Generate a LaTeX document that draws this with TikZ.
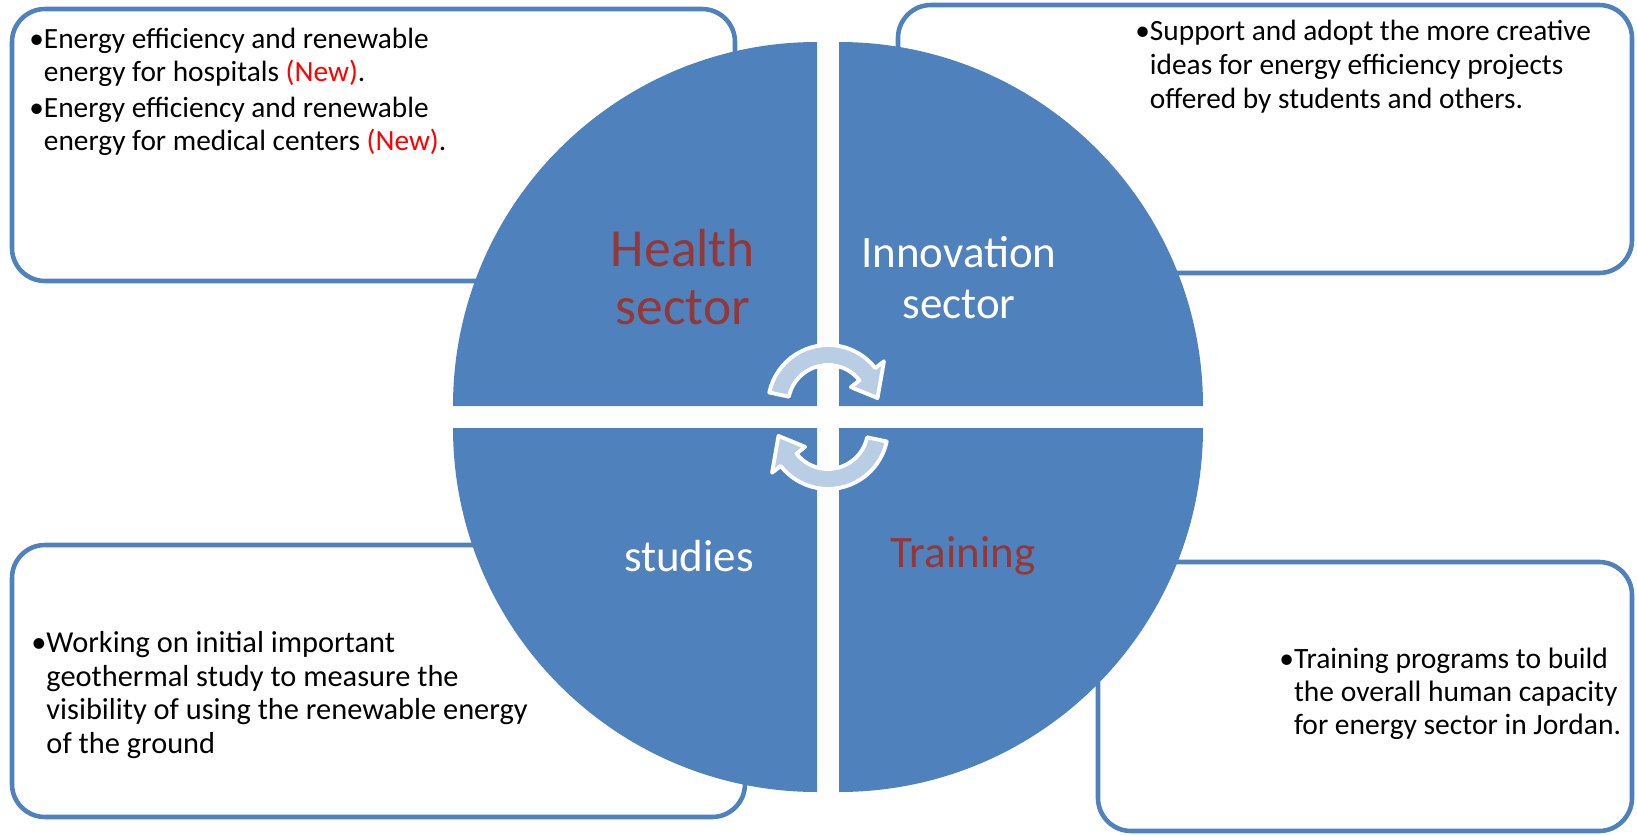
\documentclass[tikz,border=0pt]{standalone}
\usepackage{fontspec}
\setmainfont{Carlito}
\usetikzlibrary{positioning}
\definecolor{SmartBlue}{RGB}{79,129,189}
\definecolor{SmartRed}{RGB}{149,55,53}
\definecolor{ArrowBlue}{RGB}{185,205,229}
\colorlet{boxcolor}{SmartBlue}

\begin{document}
\begin{tikzpicture}[x = 0.02cm, y = -0.02cm,
    infobox/.style = {draw = boxcolor, line width = 2.6pt, rounded corners = 0.66cm, fill = white},
    sector/.style = {fill = SmartBlue},
    sectorlabel/.style = {align = center, inner sep = 0pt, font = \fontsize{25.6}{29}\selectfont},
    infotext/.style = {align = left, anchor = north west, inner sep = 0pt, font = \fontsize{16.7}{18.7}\selectfont},
    cyclearrow/.style = {fill = ArrowBlue, draw = white, line width = 2.2pt, line join = round}]
  \useasboundingbox (0,0) rectangle (1637,835);

  % boxes behind the circle
  \draw[infobox] (12,9) rectangle (735,281);
  \draw[infobox] (898,5) rectangle (1632,273);
  \draw[infobox] (12,545) rectangle (745,817);
  \draw[infobox] (1098,562) rectangle (1632,831);

  % four quarters of the circle
  \foreach \cx/\cy/\a in {817/406/180, 839/406/270, 839/428/0, 817/428/90}
    \fill[sector] (\cx,\cy) -- ++(\a:364) arc[start angle = \a, end angle = \a+90, radius = 364] -- cycle;

  \node[sectorlabel, text = SmartRed, font = \fontsize{30.5}{33}\selectfont] at (683,277) (health) {Health\\sector};
  \node[sectorlabel, text = white] at (959,278) (innovation) {Innovation\\sector};
  \node[sectorlabel, text = white] at (689,556) (studies) {studies};
  \node[sectorlabel, text = SmartRed] at (963,556) (training) {Training};

  % cycle arrows in the middle
  \begin{scope}[shift = {(828,405)}]
    \draw[cyclearrow] (192:60) arc[start angle = 192, end angle = 322, radius = 60] -- (322:71) -- (352:50) -- (322:29) -- (322:40) arc[start angle = 322, end angle = 192, radius = 40] -- cycle;
  \end{scope}
  \begin{scope}[shift = {(828,429)}]
    \draw[cyclearrow] (12:60) arc[start angle = 12, end angle = 142, radius = 60] -- (142:71) -- (172:50) -- (142:29) -- (142:40) arc[start angle = 142, end angle = 12, radius = 40] -- cycle;
  \end{scope}

  % texts of the boxes
  \node[infotext] at (29,28) (healthtext) {•Energy efficiency and renewable\\\hphantom{•}energy for hospitals \textcolor{red}{(New)}.\\[2pt]•Energy efficiency and renewable\\\hphantom{•}energy for medical centers \textcolor{red}{(New)}.};
  \node[infotext, font = \fontsize{16.7}{19.2}\selectfont] at (1135,20) (innovationtext) {•Support and adopt the more creative\\\hphantom{•}ideas for energy efficiency projects\\\hphantom{•}offered by students and others.};
  \node[infotext, font = \fontsize{17.3}{19.1}\selectfont] at (31,631) (studiestext) {•Working on initial important\\\hphantom{•}geothermal study to measure the\\\hphantom{•}visibility of using the renewable energy\\\hphantom{•}of the ground};
  \node[infotext, font = \fontsize{16.8}{18.8}\selectfont] at (1279,648) (trainingtext) {•Training programs to build\\\hphantom{•}the overall human capacity\\\hphantom{•}for energy sector in Jordan.};
\end{tikzpicture}
\end{document}
